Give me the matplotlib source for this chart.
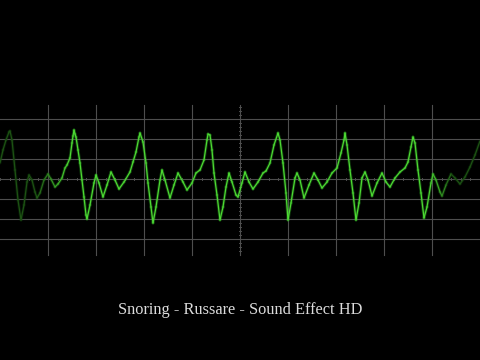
import numpy as np
import matplotlib
matplotlib.use("Agg")
import matplotlib.pyplot as plt
from matplotlib.collections import LineCollection

# trace, pixel coords (y grows downward)
trace_x = [0, 3, 6, 9, 10, 12, 15, 18, 21, 24, 27, 29, 32, 35, 37, 40, 44, 48, 51, 55,
           58, 62, 65, 67, 70, 72, 73, 74, 75, 76, 78, 80, 82, 84, 86, 87, 90, 94, 96, 99,
           103, 107, 111, 115, 119, 124, 130, 133, 136, 139, 140, 143, 146, 148, 151, 153,
           156, 160, 162, 165, 170, 174, 178, 183, 187, 192, 196, 200, 204, 207, 208, 210,
           212, 214, 217, 220, 223, 226, 229, 232, 236, 238, 242, 245, 249, 253, 258, 263,
           266, 270, 274, 278, 280, 283, 286, 288, 291, 295, 297, 300, 304, 309, 314, 318,
           322, 327, 332, 337, 341, 344, 345, 347, 350, 353, 356, 359, 362, 365, 368, 372,
           377, 382, 386, 390, 395, 400, 405, 408, 411, 413, 415, 418, 421, 424, 427, 431,
           433, 436, 440, 442, 446, 451, 455, 460, 465, 470, 475, 480]
trace_y = [163, 150, 140, 132, 131, 140, 170, 200, 220, 205, 182, 175, 180, 192, 198, 193, 180, 174, 179, 187,
           184, 178, 168, 165, 158, 143, 136, 130, 134, 137, 150, 163, 180, 197, 215, 219, 205, 183, 175, 183,
           197, 185, 172, 180, 189, 182, 172, 162, 152, 137, 133, 142, 163, 183, 207, 223,
           207, 180, 170, 180, 198, 185, 173, 182, 190, 183, 173, 170, 160, 140, 134, 135,
           150, 173, 195, 220, 207, 187, 173, 182, 195, 197, 183, 172, 182, 189, 182, 173,
           171, 163, 145, 133, 140, 163, 193, 220, 203, 178, 173, 180, 198, 185, 173, 180,
           188, 182, 173, 168, 153, 140, 133, 145, 170, 193, 220, 203, 178, 172, 180, 196,
           183, 173, 182, 187, 178, 172, 168, 162, 147, 137, 143, 170, 193, 218, 207, 183,
           174, 180, 192, 196, 185, 174, 178, 184, 177, 167, 155, 141]

grid_x = [48, 96, 144, 192, 240, 288, 336, 384, 432]
grid_y = [119, 139, 159, 179, 199, 219, 239]
title = "Snoring - Russare - Sound Effect HD"

fig = plt.figure(figsize=(4.8, 3.6), dpi=100, facecolor="black")
ax = fig.add_axes([0, 0, 1, 1])
ax.set_facecolor("black")
ax.set_xlim(0, 480)
ax.set_ylim(360, 0)
ax.axis("off")

# graticule
gc = "#4e4e4e"
for gx in grid_x:
    ax.plot([gx, gx], [105, 255], color=gc, lw=0.8, zorder=1)
for gy in grid_y:
    ax.plot([0, 480], [gy, gy], color=gc, lw=0.8, zorder=1)
# small ticks on the centre lines
for tx in np.arange(0, 481, 9.6):
    ax.plot([tx, tx], [178, 180], color=gc, lw=0.7, zorder=1)
for ty in np.arange(107, 255, 4):
    ax.plot([239, 241], [ty, ty], color=gc, lw=0.7, zorder=1)

# trace, dimmer at both edges
pts = np.column_stack([trace_x, trace_y])
segs = np.stack([pts[:-1], pts[1:]], axis=1)
mid = (pts[:-1, 0] + pts[1:, 0]) / 2
bright = np.clip(np.minimum((mid - 15) / 55, (468 - mid) / 40), 0.38, 1.0)
cols = [(0.30 * b, 0.85 * b, 0.20 * b, 1.0) for b in bright]
glow = [(0.20 * b, 0.75 * b, 0.15 * b, 0.3) for b in bright]
ax.add_collection(LineCollection(segs, colors=glow, linewidths=2.2,
                                 capstyle="round", joinstyle="round", zorder=2))
ax.add_collection(LineCollection(segs, colors=cols, linewidths=0.9,
                                 capstyle="round", joinstyle="round", zorder=3))

ax.text(240, 310, title, ha="center", va="center", color="#dcdcdc",
        fontsize=11.8, family="Liberation Serif")

fig.savefig("out.png", dpi=100, facecolor="black")
